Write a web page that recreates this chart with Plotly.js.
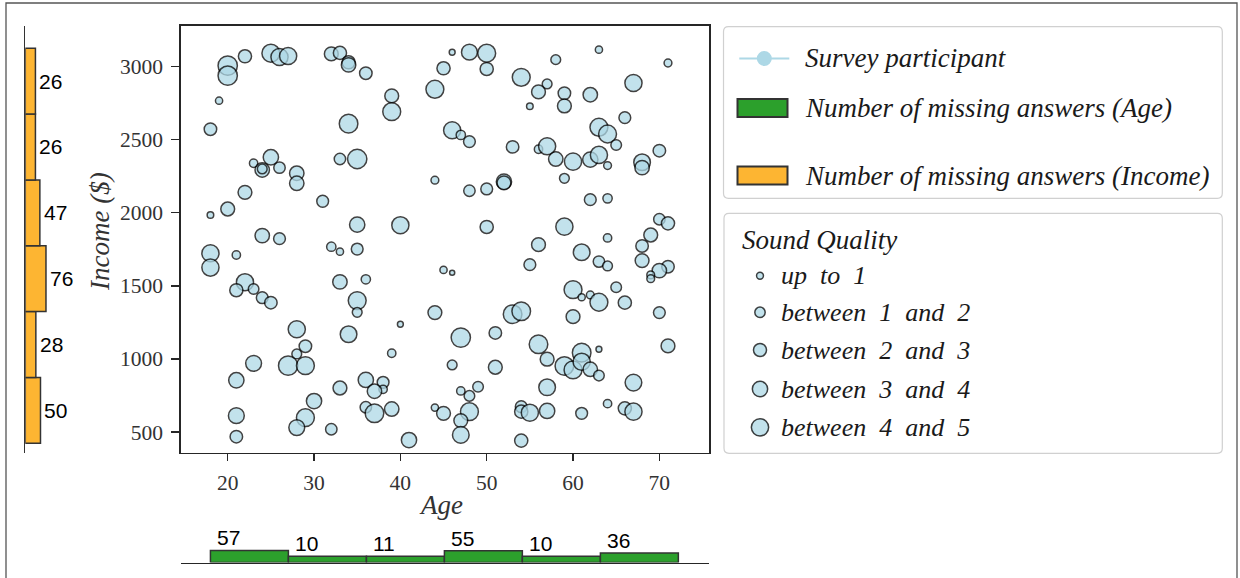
<!DOCTYPE html>
<html>
<head>
<meta charset="utf-8">
<script src="https://cdn.plot.ly/plotly-3.0.1.min.js"></script>
<style>html,body{margin:0;padding:0;background:#fff;}#chart{width:1240px;height:578px;}</style>
</head>
<body>
<div id="chart"></div>
<script>
// ---------- data ----------
const age = [20,20,22,25,26,27,32,33,34,34,36,19,18,39,39,34,44,46,45,46,
  23,25,24,24,26,28,28,33,35,44,22,18,20,31,35,40,24,26,18,18,
  21,32,33,35,22,21,23,24,25,33,36,35,35,45,46,44,40,28,34,29,
  28,27,29,23,21,39,46,36,38,38,37,33,36,37,39,30,29,28,21,21,
  32,41,44,45,48,50,50,54,58,63,71,67,56,57,55,59,59,62,66,47,
  48,53,56,57,58,60,62,63,63,64,65,64,68,68,70,59,52,52,50,48,
  62,64,50,59,70,71,69,64,56,68,61,55,63,64,68,71,70,69,69,60,
  61,62,63,65,66,70,60,53,54,47,51,56,57,59,60,61,61,62,63,63,
  71,51,57,67,47,49,48,48,47,47,54,54,55,57,61,64,66,67,54];
const income = [3007,2938,3071,3092,3066,3073,3087,3094,3030,3012,2955,2767,2572,2800,2692,2610,2845,3099,2989,2565,
  2339,2380,2293,2300,2309,2271,2202,2368,2368,2223,2140,1985,2026,2079,1919,1915,1844,1823,1723,1625,
  1711,1768,1734,1752,1525,1470,1479,1419,1385,1527,1545,1399,1319,1609,1590,1317,1237,1203,1169,1087,
  1034,954,954,970,854,1039,959,856,840,792,779,801,669,628,657,712,598,530,612,468,
  519,445,667,628,3099,3092,2984,2927,3048,3116,3025,2888,2827,2882,2729,2818,2731,2808,2651,2533,
  2487,2451,2435,2455,2368,2350,2364,2396,2585,2539,2464,2323,2346,2309,2425,2236,2213,2205,2163,2151,
  2090,2099,1903,1905,1956,1928,1848,1828,1782,1773,1730,1645,1666,1636,1673,1631,1604,1575,1549,1474,
  1422,1438,1388,1490,1385,1317,1289,1306,1326,1146,1178,1100,998,952,925,1043,981,929,886,1066,
  1089,943,806,838,781,810,747,639,578,480,673,639,632,644,628,694,662,639,441];
const quality = [4.3,4.3,2.0,3.7,3.4,3.4,2.2,2.0,2.0,2.4,1.8,0.6,1.8,2.2,3.7,4.0,3.7,0.4,2.0,3.4,
  0.8,2.7,2.4,1.1,1.5,2.4,2.4,1.5,4.3,0.7,2.2,0.5,2.2,1.6,2.7,3.4,2.4,1.6,3.4,3.4,
  0.8,1.0,0.6,1.6,3.4,2.0,1.3,1.6,1.8,2.4,1.0,3.7,1.1,0.6,0.3,2.2,0.4,3.4,3.2,1.8,
  1.1,4.3,3.7,2.9,2.7,0.8,1.1,2.7,1.6,0.8,2.4,2.2,1.5,4.0,2.4,2.7,3.7,2.9,2.9,1.8,
  1.5,2.7,0.6,2.2,2.9,3.7,2.0,3.7,1.1,0.6,0.7,3.4,2.2,1.1,0.5,1.8,2.2,2.4,1.6,1.0,
  1.6,1.8,0.8,3.4,2.4,3.4,2.7,3.4,3.7,3.7,1.3,0.7,3.2,2.4,1.8,1.1,2.7,2.2,1.6,1.5,
  1.6,1.0,2.0,3.4,1.5,2.0,2.2,0.8,2.2,1.8,3.2,1.6,1.5,1.1,2.2,1.8,2.4,0.7,0.7,3.7,
  0.6,0.7,3.7,1.3,2.0,1.6,2.2,4.0,4.0,4.3,1.8,4.0,2.2,4.0,3.7,4.0,3.4,2.4,1.3,0.4,
  2.2,2.2,3.2,3.2,0.8,1.3,1.3,3.7,2.2,3.2,1.6,2.0,3.4,2.7,1.6,0.8,2.0,3.4,2.0];

const ageBinEdges = [18, 27.03, 36.07, 45.1, 54.13, 63.17, 72.2];
const ageMissing = [57, 10, 11, 55, 10, 36];
const incomeBinEdges = [423, 873.5, 1324, 1774.5, 2225, 2675.5, 3126];
const incomeMissing = [50, 28, 76, 47, 26, 26];

const ageTicks = [20, 30, 40, 50, 60, 70];
const incomeTicks = [500, 1000, 1500, 2000, 2500, 3000];

const sizeLegendLabels = ['up\u00a0 to\u00a0 1', 'between\u00a0 1\u00a0 and\u00a0 2', 'between\u00a0 2\u00a0 and\u00a0 3',
  'between\u00a0 3\u00a0 and\u00a0 4', 'between\u00a0 4\u00a0 and\u00a0 5'];
const sizeLegendValues = [1, 2, 3, 4, 5];
const legendLabels = ['Survey participant', 'Number of missing answers (Age)', 'Number of missing answers (Income)'];

// ---------- helpers ----------
const W = 1240, H = 578;
const X = p => p / W;
const Y = p => 1 - p / H;
const centers = e => e.slice(0, -1).map((v, i) => (v + e[i + 1]) / 2);
const widths = e => e.slice(0, -1).map((v, i) => e[i + 1] - v);

const BLUE = 'lightblue', GREEN = '#2ca02c', ORANGE = '#fdb532', EDGE = '#333333';
const SERIF = 'Liberation Serif', SANS = 'Liberation Sans';

const AGE_BASE = -40, INC_BASE = -22;

// ---------- traces ----------
const traces = [
  {
    type: 'scatter', mode: 'markers', x: age, y: income, xaxis: 'x', yaxis: 'y',
    marker: {size: quality, sizemode: 'area', sizeref: 2 / 86.5, color: BLUE, opacity: 0.74,
      line: {color: 'black', width: 1.5}},
    hoverinfo: 'skip'
  },
  {
    type: 'bar', orientation: 'h', xaxis: 'x2', yaxis: 'y2',
    y: centers(incomeBinEdges), width: widths(incomeBinEdges),
    base: INC_BASE, x: incomeMissing.map(v => v - INC_BASE),
    marker: {color: ORANGE, line: {color: EDGE, width: 1.5}}, hoverinfo: 'skip'
  },
  {
    type: 'bar', xaxis: 'x3', yaxis: 'y3',
    x: centers(ageBinEdges), width: widths(ageBinEdges),
    base: AGE_BASE, y: ageMissing.map(v => v - AGE_BASE),
    marker: {color: GREEN, line: {color: EDGE, width: 1.5}}, hoverinfo: 'skip'
  }
];

// ---------- layout ----------
const xDom = [X(181), X(709)];
const yDom = [Y(452.5), Y(26)];
const xRange = [14.59, 75.75];
const yRange = [359.7, 3278.2];
const tickFont = {family: SERIF, size: 21.5, color: '#333'};

const annotations = [];
const shapes = [];

// histogram labels
const barFont = {family: SANS, size: 21, color: 'black'};
ageMissing.forEach((v, i) => annotations.push({
  x: ageBinEdges[i], y: v, xref: 'x3', yref: 'y3', text: String(v), showarrow: false,
  xanchor: 'left', yanchor: 'bottom', xshift: 5, yshift: -1, font: barFont
}));
const incC = centers(incomeBinEdges);
incomeMissing.forEach((v, i) => annotations.push({
  x: v, y: incC[i], xref: 'x2', yref: 'y2', text: String(v), showarrow: false,
  xanchor: 'left', yanchor: 'middle', xshift: 2, font: barFont
}));

// axis titles
const titleFont = {family: SERIF, size: 27, color: '#333', style: 'italic'};
annotations.push({x: X(441), y: Y(505), xref: 'paper', yref: 'paper', text: 'Age', showarrow: false,
  xanchor: 'center', yanchor: 'middle', font: titleFont});
annotations.push({x: X(100), y: Y(232), xref: 'paper', yref: 'paper', text: 'Income ($)', showarrow: false,
  xanchor: 'center', yanchor: 'middle', textangle: -90, font: titleFont});

// figure frame
shapes.push({type: 'rect', xref: 'paper', yref: 'paper', x0: X(6), x1: X(1237), y0: -0.1, y1: Y(3),
  line: {color: '#555', width: 1.3}, fillcolor: 'rgba(0,0,0,0)'});

// legend boxes
function roundRect(x0, y0, x1, y1, r) {
  const f = (a, b) => X(a).toFixed(5) + ',' + Y(b).toFixed(5);
  return 'M' + f(x0 + r, y0) + ' L' + f(x1 - r, y0) + ' Q' + f(x1, y0) + ' ' + f(x1, y0 + r) +
    ' L' + f(x1, y1 - r) + ' Q' + f(x1, y1) + ' ' + f(x1 - r, y1) +
    ' L' + f(x0 + r, y1) + ' Q' + f(x0, y1) + ' ' + f(x0, y1 - r) +
    ' L' + f(x0, y0 + r) + ' Q' + f(x0, y0) + ' ' + f(x0 + r, y0) + ' Z';
}
shapes.push({type: 'path', xref: 'paper', yref: 'paper', path: roundRect(723.5, 26.7, 1222.3, 198.3, 5),
  line: {color: '#d0d0d0', width: 1.2}, fillcolor: 'white'});
shapes.push({type: 'path', xref: 'paper', yref: 'paper', path: roundRect(724, 213.3, 1222.3, 453.3, 5),
  line: {color: '#d0d0d0', width: 1.2}, fillcolor: 'white'});

const legFont = {family: SERIF, size: 27, color: '#1a1a1a', style: 'italic'};
const sizeFont = {family: SERIF, size: 26, color: '#1a1a1a', style: 'italic'};
// legend 1 entries
const leg1Y = [58.5, 108, 175.5];
shapes.push({type: 'line', xref: 'paper', yref: 'paper', x0: X(739.3), x1: X(789.3), y0: Y(leg1Y[0]), y1: Y(leg1Y[0]),
  line: {color: BLUE, width: 2}});
shapes.push({type: 'circle', xref: 'paper', yref: 'paper', x0: X(764.3 - 7.5), x1: X(764.3 + 7.5),
  y0: Y(leg1Y[0] + 7.5), y1: Y(leg1Y[0] - 7.5), fillcolor: BLUE, line: {width: 0}});
[[GREEN, leg1Y[1]], [ORANGE, leg1Y[2]]].forEach(([c, yc]) => shapes.push({
  type: 'rect', xref: 'paper', yref: 'paper', x0: X(737.5), x1: X(787.5), y0: Y(yc + 9), y1: Y(yc - 9),
  fillcolor: c, line: {color: EDGE, width: 2}}));
legendLabels.forEach((t, i) => annotations.push({
  x: X(803), y: Y(leg1Y[i]), xref: 'paper', yref: 'paper', text: t, showarrow: false,
  xanchor: 'left', yanchor: 'middle', font: legFont}));

// legend 2 (marker size)
annotations.push({x: X(740), y: Y(240), xref: 'paper', yref: 'paper', text: 'Sound Quality', showarrow: false,
  xanchor: 'left', yanchor: 'middle', font: legFont});
const leg2Y = [275.7, 312.3, 350, 389, 427.3];
sizeLegendValues.forEach((v, i) => {
  const d = 8.4 * Math.sqrt(v) - 1.5;
  const r = d / 2, cx = 760, cy = leg2Y[i];
  shapes.push({type: 'circle', xref: 'paper', yref: 'paper', x0: X(cx - r), x1: X(cx + r), y0: Y(cy + r), y1: Y(cy - r),
    fillcolor: 'rgba(173,216,230,0.74)', line: {color: 'rgba(0,0,0,0.74)', width: 1.5}});
  annotations.push({x: X(779), y: Y(cy), xref: 'paper', yref: 'paper', text: sizeLegendLabels[i], showarrow: false,
    xanchor: 'left', yanchor: 'middle', font: sizeFont});
});

const layout = {
  width: W, height: H, margin: {l: 0, r: 0, t: 0, b: 0},
  paper_bgcolor: 'white', plot_bgcolor: 'white', showlegend: false, bargap: 0,
  xaxis: {domain: xDom, range: xRange, anchor: 'y', showline: true, mirror: true, linecolor: '#262626', linewidth: 1.6,
    ticks: 'outside', ticklen: 7, tickwidth: 1.3, tickcolor: '#262626', tickmode: 'array', tickvals: ageTicks,
    tickfont: tickFont, ticklabelstandoff: 3, showgrid: false, zeroline: false},
  yaxis: {domain: yDom, range: yRange, anchor: 'x', showline: true, mirror: true, linecolor: '#262626', linewidth: 1.6,
    ticks: 'outside', ticklen: 8, tickwidth: 1.3, tickcolor: '#262626', tickmode: 'array', tickvals: incomeTicks,
    tickfont: tickFont, ticklabelstandoff: 4, showgrid: false, zeroline: false},
  xaxis2: {domain: [X(25.3), X(90)], range: [INC_BASE, INC_BASE + (90 - 25.3) / 0.211], anchor: 'y2', visible: false},
  yaxis2: {domain: yDom, range: yRange, anchor: 'x2', showline: true, linecolor: '#333', linewidth: 1.5,
    showticklabels: false, ticks: '', showgrid: false, zeroline: false},
  xaxis3: {domain: xDom, range: xRange, anchor: 'y3', showline: true, linecolor: '#262626', linewidth: 1.5,
    showticklabels: false, ticks: '', showgrid: false, zeroline: false},
  yaxis3: {domain: [Y(562.5), Y(500)], range: [AGE_BASE, AGE_BASE + 62.5 / 0.124], anchor: 'x3', visible: false},
  annotations: annotations,
  shapes: shapes
};

Plotly.newPlot('chart', traces, layout, {displayModeBar: false, staticPlot: true});
</script>
</body>
</html>
